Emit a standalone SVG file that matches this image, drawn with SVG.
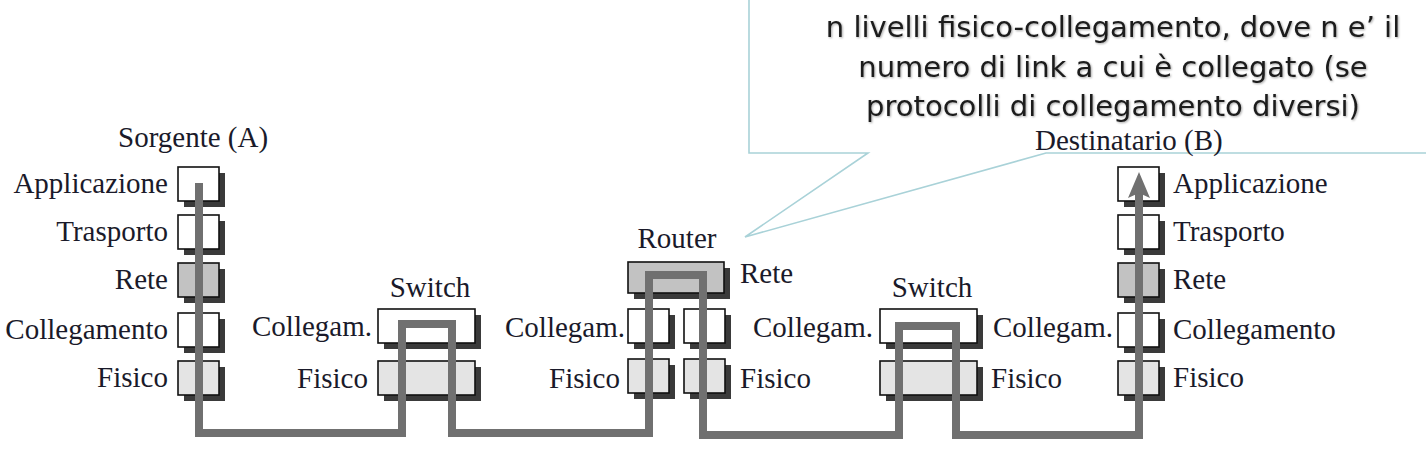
<svg xmlns="http://www.w3.org/2000/svg" width="1426" height="458" viewBox="0 0 1426 458">
<style>
.lbl{font-family:"Liberation Serif","Times New Roman",serif;font-size:29px;fill:#1a1a2a}
.e{text-anchor:end}
.m{text-anchor:middle}
.box{stroke:#111;stroke-width:1.6}
.w{fill:#ffffff}
.r{fill:#c2c2c2}
.f{fill:#e4e4e4}
.sh{fill:#3a3a3a}
.call{fill:#ffffff;stroke:#a9d2d8;stroke-width:1.6}
.ct{font-family:"DejaVu Sans",Verdana,sans-serif;font-size:29px;fill:#1a1a1a;text-anchor:middle}
.wire{fill:none;stroke:#707070;stroke-width:8;stroke-linejoin:miter;stroke-linecap:butt}
</style>
<defs>
<filter id="ts" x="-5%" y="-20%" width="110%" height="140%">
<feGaussianBlur in="SourceAlpha" stdDeviation="1.2"/>
<feOffset dx="1" dy="1" result="b"/>
<feComponentTransfer><feFuncA type="linear" slope="0.35"/></feComponentTransfer>
<feMerge><feMergeNode/><feMergeNode in="SourceGraphic"/></feMerge>
</filter>
</defs>
<rect width="1426" height="458" fill="#ffffff"/>

<g id="callout">
<polygon class="call" points="749,-5 749,153 868,153 745,237 1046,153 1432,153 1432,-5"/>
<g filter="url(#ts)">
<text class="ct" x="1113" y="37">n livelli fisico-collegamento, dove n e’ il</text>
<text class="ct" x="1113" y="77">numero di link a cui è collegato (se</text>
<text class="ct" x="1113" y="116">protocolli di collegamento diversi)</text>
</g>
</g>

<g id="sorgente">
<text class="lbl" x="118" y="147">Sorgente (A)</text>
<rect class="sh" x="184" y="173" width="41" height="34"/>
<rect class="box w" x="178" y="167" width="41" height="34"/>
<rect class="sh" x="184" y="221" width="41" height="34"/>
<rect class="box w" x="178" y="215" width="41" height="34"/>
<rect class="sh" x="184" y="269" width="41" height="34"/>
<rect class="box r" x="178" y="263" width="41" height="34"/>
<rect class="sh" x="184" y="319" width="41" height="34"/>
<rect class="box w" x="178" y="313" width="41" height="34"/>
<rect class="sh" x="184" y="367" width="41" height="34"/>
<rect class="box f" x="178" y="361" width="41" height="34"/>
<text class="lbl e" x="168" y="193">Applicazione</text>
<text class="lbl e" x="168" y="241">Trasporto</text>
<text class="lbl e" x="168" y="289">Rete</text>
<text class="lbl e" x="168" y="339">Collegamento</text>
<text class="lbl e" x="168" y="387">Fisico</text>
</g>

<g id="switch1">
<text class="lbl m" x="430" y="297">Switch</text>
<rect class="sh" x="384" y="315" width="97" height="34"/>
<rect class="box w" x="378" y="309" width="97" height="34"/>
<rect class="sh" x="384" y="367" width="97" height="34"/>
<rect class="box f" x="378" y="361" width="97" height="34"/>
<text class="lbl e" x="372" y="336">Collegam.</text>
<text class="lbl e" x="368" y="388">Fisico</text>
</g>

<g id="router">
<text class="lbl m" x="677" y="248">Router</text>
<rect class="sh" x="634" y="268" width="96" height="31"/>
<rect class="box r" x="628" y="262" width="96" height="31"/>
<rect class="sh" x="634" y="315" width="41" height="34"/>
<rect class="box w" x="628" y="309" width="41" height="34"/>
<rect class="sh" x="690" y="315" width="41" height="34"/>
<rect class="box w" x="684" y="309" width="41" height="34"/>
<rect class="sh" x="634" y="365" width="41" height="34"/>
<rect class="box f" x="628" y="359" width="41" height="34"/>
<rect class="sh" x="690" y="365" width="41" height="34"/>
<rect class="box f" x="684" y="359" width="41" height="34"/>
<text class="lbl e" x="625" y="337">Collegam.</text>
<text class="lbl e" x="620" y="388">Fisico</text>
<text class="lbl" x="740" y="283">Rete</text>
<text class="lbl" x="740" y="388">Fisico</text>
<text class="lbl e" x="873" y="337">Collegam.</text>
</g>

<g id="switch2">
<text class="lbl m" x="932" y="297">Switch</text>
<rect class="sh" x="886" y="315" width="97" height="34"/>
<rect class="box w" x="880" y="309" width="97" height="34"/>
<rect class="sh" x="886" y="367" width="97" height="34"/>
<rect class="box f" x="880" y="361" width="97" height="34"/>
<text class="lbl" x="993" y="337">Collegam.</text>
<text class="lbl" x="991" y="388">Fisico</text>
</g>

<g id="destinatario">
<text class="lbl" x="1035" y="149.5">Destinatario (B)</text>
<rect class="sh" x="1124" y="173" width="41" height="34"/>
<rect class="box w" x="1118" y="167" width="41" height="34"/>
<rect class="sh" x="1124" y="221" width="41" height="34"/>
<rect class="box w" x="1118" y="215" width="41" height="34"/>
<rect class="sh" x="1124" y="269" width="41" height="34"/>
<rect class="box r" x="1118" y="263" width="41" height="34"/>
<rect class="sh" x="1124" y="319" width="41" height="34"/>
<rect class="box w" x="1118" y="313" width="41" height="34"/>
<rect class="sh" x="1124" y="367" width="41" height="34"/>
<rect class="box f" x="1118" y="361" width="41" height="34"/>
<text class="lbl" x="1173" y="193">Applicazione</text>
<text class="lbl" x="1173" y="241">Trasporto</text>
<text class="lbl" x="1173" y="289">Rete</text>
<text class="lbl" x="1173" y="339">Collegamento</text>
<text class="lbl" x="1173" y="387">Fisico</text>
</g>

<g id="connectors">
<path class="wire" d="M199,183 V433 H402 V324 H452 V433 H649 V275 H703 V435 H899 V326 H956 V435 H1139 V192"/>
<polygon points="1139,172 1150,198 1139,193 1128,198" fill="#707070"/>
</g>
</svg>
